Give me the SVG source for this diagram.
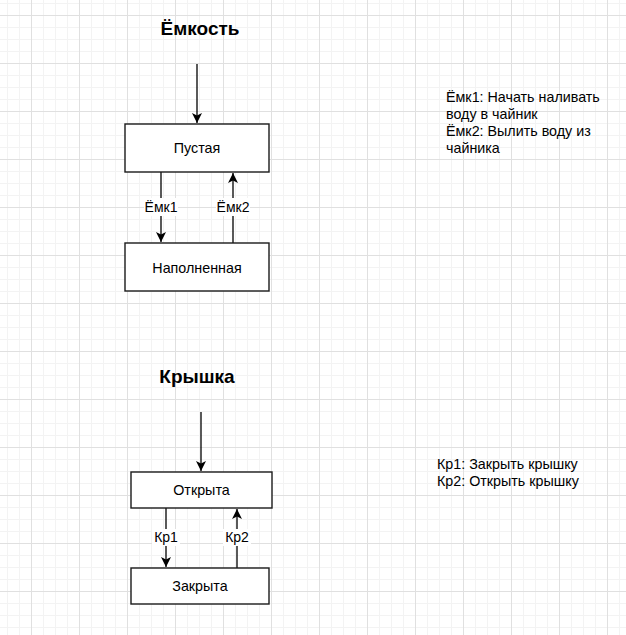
<svg xmlns="http://www.w3.org/2000/svg" width="626" height="635" viewBox="0 0 626 635">
<style>
.box{fill:#fff;stroke:#1a1a1a;stroke-width:1.4}
.edge{fill:none;stroke:#000;stroke-width:1.3}
.t{font-family:"Liberation Sans",Arial,sans-serif;font-size:14.3px;fill:#000}
.c{text-anchor:middle}
.title{font-family:"Liberation Sans",Arial,sans-serif;font-size:19px;font-weight:bold;fill:#000;text-anchor:middle}
.lbl{font-family:"Liberation Sans",Arial,sans-serif;font-size:14px;fill:#000;text-anchor:middle}
.lblbg{fill:#fff}
</style>
<defs>
<pattern id="grid" patternUnits="userSpaceOnUse" x="7" y="3" width="48" height="48">
<rect x="0" y="0" width="1" height="48" fill="#f3f3f3"/>
<rect x="12" y="0" width="1" height="48" fill="#f3f3f3"/>
<rect x="36" y="0" width="1" height="48" fill="#f3f3f3"/>
<rect x="0" y="0" width="48" height="1" fill="#f3f3f3"/>
<rect x="0" y="24" width="48" height="1" fill="#f3f3f3"/>
<rect x="0" y="36" width="48" height="1" fill="#f3f3f3"/>
<rect x="24" y="0" width="1" height="48" fill="#e0e0e0"/>
<rect x="0" y="12" width="48" height="1" fill="#e0e0e0"/>
</pattern>
<marker id="arr" markerUnits="userSpaceOnUse" markerWidth="12" markerHeight="12" refX="10" refY="5" orient="auto" viewBox="0 0 12 10">
<path d="M0,0 L10,5 L0,10 L2.5,5 Z" fill="#000"/>
</marker>
</defs>
<rect width="626" height="635" fill="#fff"/>
<rect width="626" height="635" fill="url(#grid)"/>

<g id="edges">
<line class="edge" x1="197" y1="64" x2="197" y2="123" marker-end="url(#arr)"/>
<line class="edge" x1="161" y1="172" x2="161" y2="242" marker-end="url(#arr)"/>
<line class="edge" x1="233" y1="243" x2="233" y2="173" marker-end="url(#arr)"/>
<line class="edge" x1="201" y1="412" x2="201" y2="471" marker-end="url(#arr)"/>
<line class="edge" x1="166" y1="508" x2="166" y2="567" marker-end="url(#arr)"/>
<line class="edge" x1="237" y1="568" x2="237" y2="509" marker-end="url(#arr)"/>
<g id="edge-labels">
<rect class="lblbg" x="144" y="198" width="34" height="18"/>
<text class="lbl" x="161" y="212">Ёмк1</text>
<rect class="lblbg" x="216" y="198" width="34" height="18"/>
<text class="lbl" x="233" y="212">Ёмк2</text>
<rect class="lblbg" x="152" y="529" width="28" height="17"/>
<text class="lbl" x="166" y="542">Кр1</text>
<rect class="lblbg" x="223" y="529" width="28" height="17"/>
<text class="lbl" x="237" y="542">Кр2</text>
</g>
</g>

<g id="title-emkost"><text class="title" x="200" y="35">Ёмкость</text></g>
<g id="node-pustaya">
<rect class="box" x="125" y="124" width="144" height="48"/>
<text class="t c" x="197" y="153">Пустая</text>
</g>
<g id="node-napolnennaya">
<rect class="box" x="125" y="243" width="144" height="48"/>
<text class="t c" x="197" y="273">Наполненная</text>
</g>
<g id="note-emkost">
<text class="t" x="446" y="102">Ёмк1: Начать наливать</text>
<text class="t" x="446" y="119">воду в чайник</text>
<text class="t" x="446" y="136">Ёмк2: Вылить воду из</text>
<text class="t" x="446" y="153">чайника</text>
</g>

<g id="title-kryshka"><text class="title" x="197" y="383">Крышка</text></g>
<g id="node-otkryta">
<rect class="box" x="131" y="472" width="141" height="36"/>
<text class="t c" x="201.5" y="495">Открыта</text>
</g>
<g id="node-zakryta">
<rect class="box" x="131" y="568" width="138" height="36"/>
<text class="t c" x="200" y="591">Закрыта</text>
</g>
<g id="note-kryshka">
<text class="t" x="437" y="469">Кр1: Закрыть крышку</text>
<text class="t" x="437" y="486">Кр2: Открыть крышку</text>
</g>
</svg>
